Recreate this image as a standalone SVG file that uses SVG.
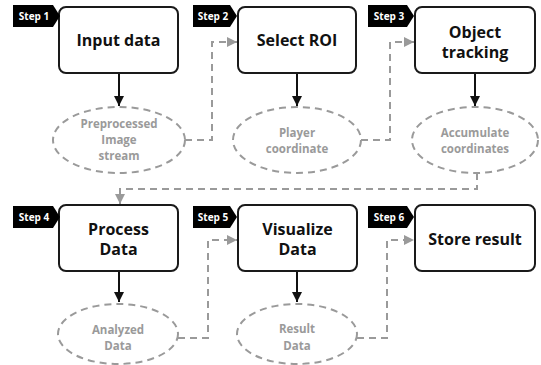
<svg xmlns="http://www.w3.org/2000/svg" width="541" height="365" viewBox="0 0 541 365">
  <style>
    .box { fill: #fff; stroke: #1a1a1a; stroke-width: 2; }
    .out { fill: #fff; stroke: #9a9a9a; stroke-width: 2; stroke-dasharray: 7 5; }
    .tag { fill: #000; }
    .tagtxt { fill: #fff; font-family: "Open Sans", "Noto Sans", sans-serif; font-weight: bold; font-size: 10px; text-anchor: middle; }
    .title { fill: #111; font-family: "Open Sans", "Noto Sans", sans-serif; font-weight: bold; font-size: 16px; text-anchor: middle; }
    .sub { fill: #9a9a9a; font-family: "Open Sans", "Noto Sans", sans-serif; font-weight: bold; font-size: 11.5px; text-anchor: middle; }
    .solid { fill: none; stroke: #111; stroke-width: 2; }
    .dash { fill: none; stroke: #9a9a9a; stroke-width: 2; stroke-dasharray: 7 5; }
  </style>
  <defs>
    <marker id="ah-black" viewBox="0 0 10 10" refX="10" refY="5" markerWidth="5" markerHeight="5" orient="auto" markerUnits="strokeWidth">
      <path d="M0,0 L10,5 L0,10 z" fill="#111"/>
    </marker>
    <marker id="ah-gray" viewBox="0 0 10 10" refX="10" refY="5" markerWidth="5" markerHeight="5" orient="auto" markerUnits="strokeWidth">
      <path d="M0,0 L10,5 L0,10 z" fill="#9a9a9a"/>
    </marker>
  </defs>

  <!-- connectors -->
  <g id="connectors">
    <line class="solid" x1="119" y1="74" x2="119" y2="106" marker-end="url(#ah-black)"/>
    <line class="solid" x1="297" y1="74" x2="297" y2="106" marker-end="url(#ah-black)"/>
    <line class="solid" x1="475" y1="74" x2="475" y2="106" marker-end="url(#ah-black)"/>
    <line class="solid" x1="119" y1="272" x2="119" y2="302" marker-end="url(#ah-black)"/>
    <line class="solid" x1="297" y1="272" x2="297" y2="302" marker-end="url(#ah-black)"/>
    <polyline class="dash" points="185,140 212,140 212,42 237,42" marker-end="url(#ah-gray)"/>
    <polyline class="dash" points="361,140 390,140 390,42 414,42" marker-end="url(#ah-gray)"/>
    <polyline class="dash" points="477,173 477,189 120,189 120,204" marker-end="url(#ah-gray)"/>
    <polyline class="dash" points="178,338 208,338 208,240 237,240" marker-end="url(#ah-gray)"/>
    <polyline class="dash" points="357,338 387,338 387,240 414,240" marker-end="url(#ah-gray)"/>
  </g>

  <!-- step 1 -->
  <g id="step1">
    <rect class="box" x="59" y="7" width="119" height="66" rx="7"/>
    <path class="tag" d="M13,5 H53 L60,16 L53,27 H13 z"/>
    <text class="tagtxt" x="34" y="19.5">Step 1</text>
    <text class="title" x="118.5" y="46">Input data</text>
  </g>
  <g id="out1">
    <ellipse class="out" cx="119" cy="140" rx="66" ry="33"/>
    <text class="sub" x="119" y="128">Preprocessed</text>
    <text class="sub" x="119" y="144">Image</text>
    <text class="sub" x="119" y="160">stream</text>
  </g>

  <!-- step 2 -->
  <g id="step2">
    <rect class="box" x="238" y="7" width="118" height="66" rx="7"/>
    <path class="tag" d="M193,5 H230 L237,16 L230,27 H193 z"/>
    <text class="tagtxt" x="213" y="19.5">Step 2</text>
    <text class="title" x="297" y="46">Select ROI</text>
  </g>
  <g id="out2">
    <ellipse class="out" cx="297" cy="140" rx="64" ry="33"/>
    <text class="sub" x="297" y="137">Player</text>
    <text class="sub" x="297" y="153">coordinate</text>
  </g>

  <!-- step 3 -->
  <g id="step3">
    <rect class="box" x="415" y="7" width="120" height="66" rx="7"/>
    <path class="tag" d="M368,5 H407 L414,16 L407,27 H368 z"/>
    <text class="tagtxt" x="389" y="19.5">Step 3</text>
    <text class="title" x="475" y="38">Object</text>
    <text class="title" x="475" y="58">tracking</text>
  </g>
  <g id="out3">
    <ellipse class="out" cx="475" cy="140" rx="63" ry="33"/>
    <text class="sub" x="475" y="137">Accumulate</text>
    <text class="sub" x="475" y="153">coordinates</text>
  </g>

  <!-- step 4 -->
  <g id="step4">
    <rect class="box" x="59" y="205" width="119" height="66" rx="7"/>
    <path class="tag" d="M13,206 H53 L60,217 L53,228 H13 z"/>
    <text class="tagtxt" x="34" y="220.5">Step 4</text>
    <text class="title" x="118.5" y="235">Process</text>
    <text class="title" x="118.5" y="255">Data</text>
  </g>
  <g id="out4">
    <ellipse class="out" cx="118" cy="334" rx="60" ry="30"/>
    <text class="sub" x="118" y="334">Analyzed</text>
    <text class="sub" x="118" y="350">Data</text>
  </g>

  <!-- step 5 -->
  <g id="step5">
    <rect class="box" x="238" y="205" width="119" height="66" rx="7"/>
    <path class="tag" d="M193,206 H230 L237,217 L230,228 H193 z"/>
    <text class="tagtxt" x="213" y="220.5">Step 5</text>
    <text class="title" x="297.5" y="235">Visualize</text>
    <text class="title" x="297.5" y="255">Data</text>
  </g>
  <g id="out5">
    <ellipse class="out" cx="297" cy="334" rx="60" ry="30"/>
    <text class="sub" x="297" y="333">Result</text>
    <text class="sub" x="297" y="350">Data</text>
  </g>

  <!-- step 6 -->
  <g id="step6">
    <rect class="box" x="415" y="205" width="120" height="66" rx="7"/>
    <path class="tag" d="M368,206 H407 L414,217 L407,228 H368 z"/>
    <text class="tagtxt" x="389" y="220.5">Step 6</text>
    <text class="title" x="475" y="245">Store result</text>
  </g>
</svg>
